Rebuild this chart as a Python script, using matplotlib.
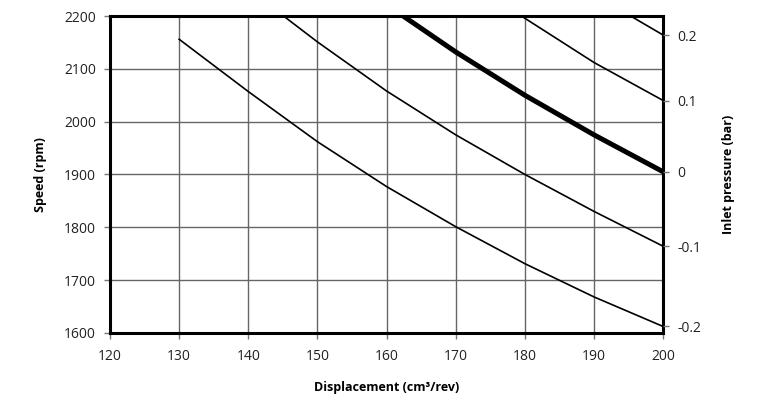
import matplotlib
matplotlib.use('Agg')
import matplotlib.pyplot as plt

plt.rcParams['font.family'] = ['Open Sans', 'DejaVu Sans']

# curves: displacement (cm3/rev) vs speed (rpm)
disp_m02 = [130, 140, 150, 160, 170, 180, 190, 200]
speed_m02 = [2156, 2057, 1962, 1877, 1801, 1731, 1668, 1612]

disp_m01 = [145.1, 150, 160, 170, 180, 190, 200]
speed_m01 = [2200, 2151, 2058, 1975, 1900, 1830, 1764]

disp_0 = [162.4, 170, 180, 190, 200]
speed_0 = [2200, 2132, 2050, 1975, 1905]

disp_p01 = [179.5, 190, 200]
speed_p01 = [2200, 2112, 2040]

disp_p02 = [195.3, 200]
speed_p02 = [2200, 2164]

pressure_labels = ['0.2', '0.1', '0', '-0.1', '-0.2']
pressure_ends = [speed_p02[-1], speed_p01[-1], speed_0[-1], speed_m01[-1], speed_m02[-1]]

x_ticks = list(range(120, 201, 10))
y_ticks = list(range(1600, 2201, 100))

fig = plt.figure(figsize=(7.64, 4.01), dpi=100)
ax = fig.add_axes([0.144, 0.170, 0.724, 0.790])

ax.plot(disp_m02, speed_m02, color='black', lw=1.2)
ax.plot(disp_m01, speed_m01, color='black', lw=1.2)
ax.plot(disp_0, speed_0, color='black', lw=3.6, solid_capstyle='butt')
ax.plot(disp_p01, speed_p01, color='black', lw=1.2)
ax.plot(disp_p02, speed_p02, color='black', lw=1.2)

ax.set_xlim(120, 200)
ax.set_ylim(1600, 2200)
ax.set_xticks(x_ticks)
ax.set_yticks(y_ticks)
ax.grid(True, color='#666666', lw=1.0)
ax.set_axisbelow(True)
for s in ax.spines.values():
    s.set_linewidth(2.2)
    s.set_color('black')
ax.tick_params(axis='both', direction='out', length=4, width=1, color='#777777',
               labelsize=10, colors='#222222')
ax.tick_params(axis='x', pad=8)
ax.tick_params(axis='y', pad=6)

ax.set_xlabel('Displacement (cm³/rev)', fontsize=9, fontweight='bold', labelpad=12)
ax.set_ylabel('Speed (rpm)', fontsize=9, fontweight='bold', labelpad=12)

ax2 = ax.twinx()
ax2.set_ylim(1600, 2200)
ax2.set_yticks(pressure_ends)
ax2.set_yticklabels(pressure_labels)
ax2.tick_params(axis='y', direction='out', length=4, width=1, color='#777777',
                labelsize=10, colors='#222222', pad=6)
for s in ax2.spines.values():
    s.set_visible(False)
ax2.set_ylabel('Inlet pressure (bar)', fontsize=9, fontweight='bold', labelpad=15)

fig.savefig('out.png', dpi=100)
